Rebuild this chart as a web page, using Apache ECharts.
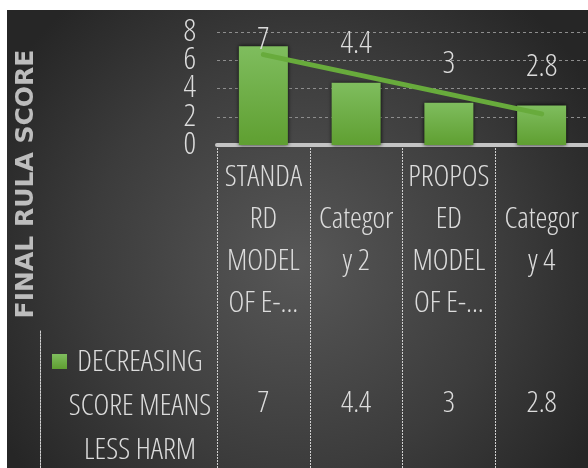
<!DOCTYPE html>
<html>
<head>
<meta charset="utf-8">
<script src="https://cdn.jsdelivr.net/npm/echarts@6/dist/echarts.min.js"></script>
<style>
html,body{margin:0;padding:0;background:#fff;}
#c{width:588px;height:468px;}
</style>
</head>
<body>
<div id="c"></div>
<script>
// ---- data ----
var categories = ["STANDARD MODEL OF E-...", "Category 2", "PROPOSED MODEL OF E-...", "Category 4"];
var categoryTickLabels = ["STANDA\nRD\nMODEL\nOF E-...", "Categor\ny 2", "PROPOS\nED\nMODEL\nOF E-...", "Categor\ny 4"];
var seriesName = "DECREASING SCORE MEANS LESS HARM";
var seriesLegendText = "DECREASING\nSCORE MEANS\nLESS HARM";
var scores = [7, 4.4, 3, 2.8];
var trendValues = [6.4, 5.0, 3.6, 2.2];
var yTicks = [0, 2, 4, 6, 8];
var axisTitle = "FINAL RULA SCORE";

// ---- styling ----
var FAM = "'Open Sans'";
var STRETCH = 'condensed 300';
var TXT = '#dcdcdc';
var chart = echarts.init(document.getElementById('c'), null, {renderer: 'canvas'});

var barData = scores.map(function (v, i) {
  var item = {value: v};
  if (i === 0) { item.label = {distance: -10}; }
  return item;
});

var option = {
  backgroundColor: '#ffffff',
  animation: false,
  graphic: [
    {
      type: 'rect', z: -100,
      shape: {x: 7, y: 10, width: 581, height: 458},
      style: {
        fill: new echarts.graphic.RadialGradient(0.5, 0.55, 0.75, [
          {offset: 0, color: '#575757'},
          {offset: 0.6, color: '#3c3c3c'},
          {offset: 1, color: '#262626'}
        ])
      }
    },
    {
      type: 'text', z: 100,
      x: 26, y: 184, rotation: Math.PI / 2,
      style: {
        text: axisTitle,
        fill: '#bdbdbd',
        font: "bold 25px 'DejaVu Sans', sans-serif",
        textAlign: 'center', textVerticalAlign: 'middle'
      }
    }
  ],
  title: {
    text: seriesLegendText,
    left: 135, top: 335, textAlign: 'center',
    textStyle: {color: TXT, fontFamily: FAM, fontWeight: STRETCH, fontSize: 30, lineHeight: 44}
  },
  legend: {
    left: 47, top: 349, itemWidth: 15, itemHeight: 15, icon: 'rect',
    data: [seriesName], formatter: function () { return ''; },
    selectedMode: false
  },
  grid: [
    {left: 217, top: 32, width: 376, height: 113},
    {left: 217, top: 145, width: 376, height: 330},
    {left: 40, top: 330, width: 560, height: 150}
  ],
  xAxis: [
    {
      gridIndex: 0, type: 'category', data: categories,
      axisLine: {show: true, lineStyle: {color: '#c4c4c4', width: 4}},
      axisTick: {show: false},
      axisLabel: {
        formatter: function (v, i) { return categoryTickLabels[i]; },
        color: TXT, fontFamily: FAM, fontWeight: STRETCH, fontSize: 30, lineHeight: 42,
        margin: 95, verticalAlign: 'middle', interval: 0
      }
    },
    {
      gridIndex: 1, type: 'category', data: categories, position: 'top',
      axisLine: {show: false}, axisTick: {show: false},
      splitLine: {show: true, lineStyle: {color: '#cfcfcf', width: 1, type: [2, 1]}},
      axisLabel: {
        inside: true, interval: 0,
        formatter: function (v, i) { return String(scores[i]); },
        color: TXT, fontFamily: FAM, fontWeight: STRETCH, fontSize: 30,
        margin: 258, verticalAlign: 'middle'
      }
    },
    {
      gridIndex: 2, type: 'value', position: 'top', min: 0, max: 1,
      axisLine: {show: true, lineStyle: {color: '#cfcfcf', width: 1, type: [2, 1]}},
      axisTick: {show: false}, axisLabel: {show: false}, splitLine: {show: false}
    }
  ],
  yAxis: [
    {
      gridIndex: 0, type: 'value', position: 'left',
      min: yTicks[0], max: yTicks[yTicks.length - 1], interval: 2,
      axisLine: {show: false}, axisTick: {show: false}, axisLabel: {show: false},
      splitLine: {show: true, lineStyle: {color: '#8e8e8e', width: 1, type: [3, 3]}}
    },
    {
      gridIndex: 1, type: 'value', show: false
    },
    {
      gridIndex: 2, type: 'value', min: 0, max: 1,
      axisLine: {show: true, lineStyle: {color: '#cfcfcf', width: 1, type: [2, 1]}},
      axisTick: {show: false}, axisLabel: {show: false}, splitLine: {show: false}
    },
    {
      gridIndex: 0, type: 'category', position: 'left', boundaryGap: false,
      data: yTicks.map(String),
      axisLine: {show: false}, axisTick: {show: false}, splitLine: {show: false},
      axisLabel: {
        interval: 0, hideOverlap: false, margin: 21,
        color: TXT, fontFamily: FAM, fontWeight: STRETCH, fontSize: 31
      }
    }
  ],
  series: [
    {
      name: seriesName, type: 'bar', xAxisIndex: 0, yAxisIndex: 0,
      data: barData, barWidth: 49,
      itemStyle: {
        color: new echarts.graphic.LinearGradient(0, 0, 0, 1, [
          {offset: 0, color: '#7fbd5e'},
          {offset: 1, color: '#5f9f31'}
        ]),
        shadowBlur: 4, shadowColor: 'rgba(0,0,0,0.85)'
      },
      label: {
        show: true, position: 'top', distance: 23,
        color: TXT, fontFamily: FAM, fontWeight: STRETCH, fontSize: 31
      }
    },
    {
      name: 'trend', type: 'line', xAxisIndex: 0, yAxisIndex: 0,
      data: trendValues, symbol: 'none', z: 5,
      lineStyle: {color: '#68ab3c', width: 5, cap: 'round'}
    }
  ]
};
chart.setOption(option);
</script>
</body>
</html>
